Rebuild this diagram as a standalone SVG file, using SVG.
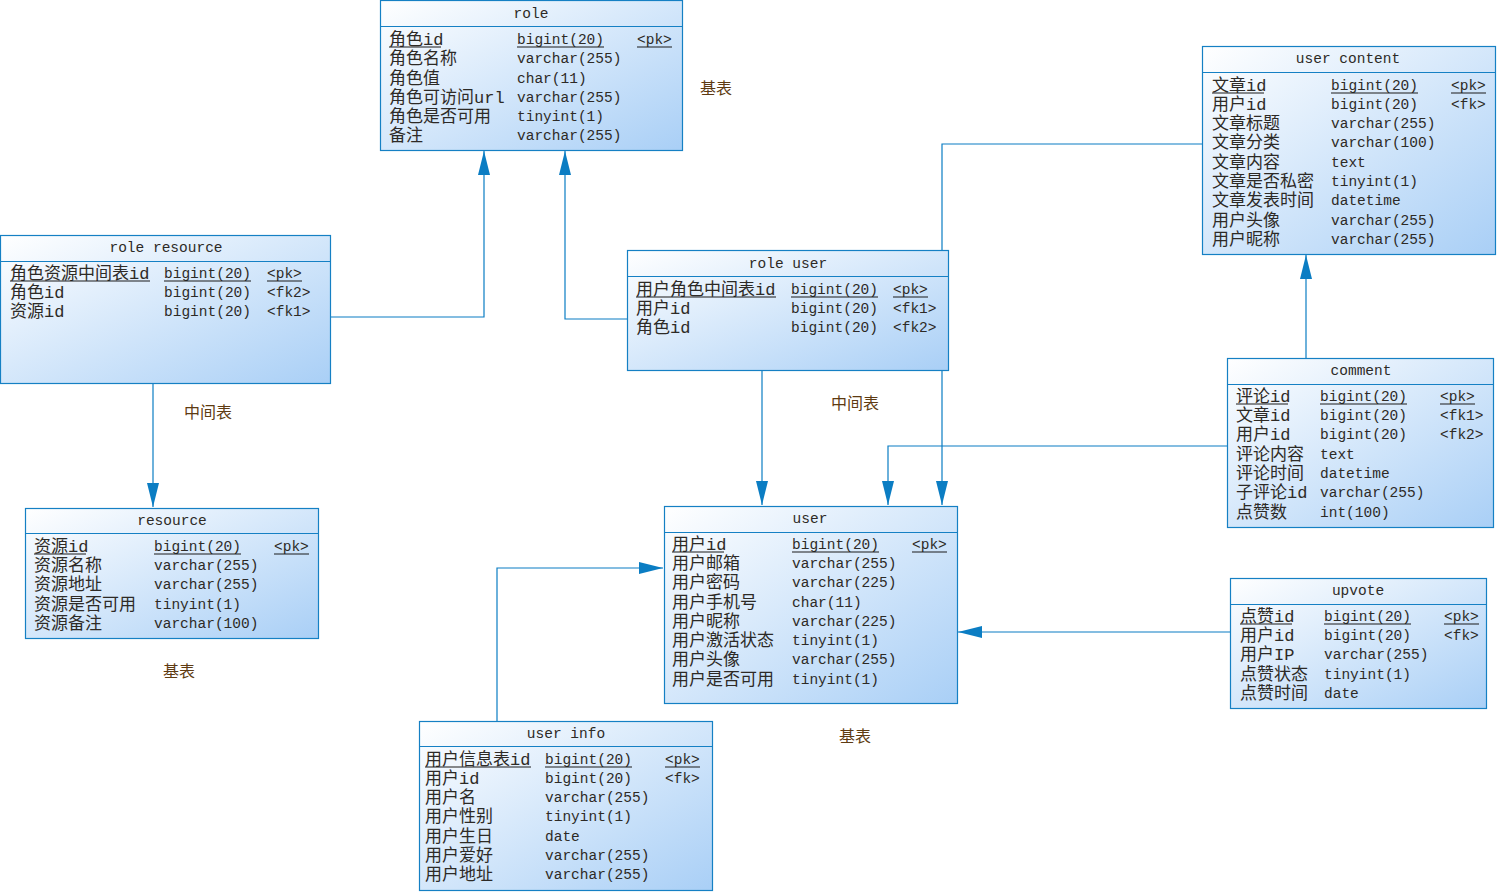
<svg xmlns="http://www.w3.org/2000/svg" width="1500" height="895" viewBox="0 0 1500 895">
<style>
.box{fill:url(#g);stroke:#1580c4;stroke-width:1.2}
.sep{stroke:#1580c4;stroke-width:1.2}
.t{font-family:"Liberation Mono","Noto Sans CJK SC",monospace;font-size:14.5px;fill:#2d2a26;dominant-baseline:central;transform:translateY(1px)}
.n{font-family:"Liberation Mono","Noto Sans CJK SC",monospace;font-size:17px;fill:#2d2a26;dominant-baseline:central;transform:translateY(1px)}
.ttl{font-family:"Liberation Mono","Noto Sans CJK SC",monospace;font-size:14.5px;fill:#2d2a26;dominant-baseline:central;text-anchor:middle;transform:translateY(1px)}
.u{stroke:#1a1a1a;stroke-width:1.2}
.lbl{font-family:"Noto Sans CJK SC",sans-serif;font-size:16px;fill:#5e3b12;dominant-baseline:central;text-anchor:middle}
.c{fill:none;stroke:#0b7dc3;stroke-width:1.2}
</style>
<defs>
<linearGradient id="g" x1="0" y1="0" x2="1" y2="1">
<stop offset="0" stop-color="#ffffff"/>
<stop offset="1" stop-color="#a9cff6"/>
</linearGradient>
<marker id="a" markerUnits="userSpaceOnUse" markerWidth="24" markerHeight="12" refX="24" refY="6" orient="auto" viewBox="0 0 24 12">
<path d="M0,0 L24,6 L0,12 z" fill="#0b7dc3"/>
</marker>
</defs>
<rect width="1500" height="895" fill="#ffffff"/>

<g id="connectors">
<polyline class="c" points="330,317 484,317 484,151" marker-end="url(#a)"/>
<polyline class="c" points="627,319 565,319 565,151" marker-end="url(#a)"/>
<polyline class="c" points="153,383 153,507" marker-end="url(#a)"/>
<polyline class="c" points="762,370 762,505" marker-end="url(#a)"/>
<polyline class="c" points="1202,144 942,144 942,505" marker-end="url(#a)"/>
<polyline class="c" points="1227,446 888,446 888,505" marker-end="url(#a)"/>
<polyline class="c" points="1306,358 1306,255" marker-end="url(#a)"/>
<polyline class="c" points="1230,632 958,632" marker-end="url(#a)"/>
<polyline class="c" points="497,721 497,568 663,568" marker-end="url(#a)"/>
</g>

<g id="role">
<rect class="box" x="380.5" y="0.5" width="302" height="150"/>
<line class="sep" x1="380.5" y1="26.5" x2="682.5" y2="26.5"/>
<text class="ttl" x="531" y="13">role</text>
<text class="n" x="389" y="39">角色id</text><text class="t" x="517" y="39">bigint(20)</text><text class="t" x="637" y="39">&lt;pk&gt;</text>
<line class="u" x1="389" y1="47" x2="441" y2="47"/><line class="u" x1="517" y1="47" x2="604" y2="47"/><line class="u" x1="637" y1="47" x2="672" y2="47"/>
<text class="n" x="389" y="58">角色名称</text><text class="t" x="517" y="58">varchar(255)</text>
<text class="n" x="389" y="78">角色值</text><text class="t" x="517" y="78">char(11)</text>
<text class="n" x="389" y="97">角色可访问url</text><text class="t" x="517" y="97">varchar(255)</text>
<text class="n" x="389" y="116">角色是否可用</text><text class="t" x="517" y="116">tinyint(1)</text>
<text class="n" x="389" y="135">备注</text><text class="t" x="517" y="135">varchar(255)</text>
</g>

<g id="role_resource">
<rect class="box" x="0.5" y="235.5" width="330" height="148"/>
<line class="sep" x1="0.5" y1="261.5" x2="330.5" y2="261.5"/>
<text class="ttl" x="166" y="247">role resource</text>
<text class="n" x="10" y="273">角色资源中间表id</text><text class="t" x="164" y="273">bigint(20)</text><text class="t" x="267" y="273">&lt;pk&gt;</text>
<line class="u" x1="10" y1="281" x2="150" y2="281"/><line class="u" x1="164" y1="281" x2="251" y2="281"/><line class="u" x1="267" y1="281" x2="302" y2="281"/>
<text class="n" x="10" y="292">角色id</text><text class="t" x="164" y="292">bigint(20)</text><text class="t" x="267" y="292">&lt;fk2&gt;</text>
<text class="n" x="10" y="311">资源id</text><text class="t" x="164" y="311">bigint(20)</text><text class="t" x="267" y="311">&lt;fk1&gt;</text>
</g>

<g id="user_content">
<rect class="box" x="1202.5" y="46.5" width="293" height="208"/>
<line class="sep" x1="1202.5" y1="72.5" x2="1495.5" y2="72.5"/>
<text class="ttl" x="1348" y="58">user content</text>
<text class="n" x="1212" y="85">文章id</text><text class="t" x="1331" y="85">bigint(20)</text><text class="t" x="1451" y="85">&lt;pk&gt;</text>
<line class="u" x1="1212" y1="93" x2="1264" y2="93"/><line class="u" x1="1331" y1="93" x2="1418" y2="93"/><line class="u" x1="1451" y1="93" x2="1486" y2="93"/>
<text class="n" x="1212" y="104">用户id</text><text class="t" x="1331" y="104">bigint(20)</text><text class="t" x="1451" y="104">&lt;fk&gt;</text>
<text class="n" x="1212" y="123">文章标题</text><text class="t" x="1331" y="123">varchar(255)</text>
<text class="n" x="1212" y="142">文章分类</text><text class="t" x="1331" y="142">varchar(100)</text>
<text class="n" x="1212" y="162">文章内容</text><text class="t" x="1331" y="162">text</text>
<text class="n" x="1212" y="181">文章是否私密</text><text class="t" x="1331" y="181">tinyint(1)</text>
<text class="n" x="1212" y="200">文章发表时间</text><text class="t" x="1331" y="200">datetime</text>
<text class="n" x="1212" y="220">用户头像</text><text class="t" x="1331" y="220">varchar(255)</text>
<text class="n" x="1212" y="239">用户昵称</text><text class="t" x="1331" y="239">varchar(255)</text>
</g>

<g id="role_user">
<rect class="box" x="627.5" y="250.5" width="321" height="120"/>
<line class="sep" x1="627.5" y1="276.5" x2="948.5" y2="276.5"/>
<text class="ttl" x="788" y="263">role user</text>
<text class="n" x="636" y="289">用户角色中间表id</text><text class="t" x="791" y="289">bigint(20)</text><text class="t" x="893" y="289">&lt;pk&gt;</text>
<line class="u" x1="636" y1="297" x2="776" y2="297"/><line class="u" x1="791" y1="297" x2="878" y2="297"/><line class="u" x1="893" y1="297" x2="928" y2="297"/>
<text class="n" x="636" y="308">用户id</text><text class="t" x="791" y="308">bigint(20)</text><text class="t" x="893" y="308">&lt;fk1&gt;</text>
<text class="n" x="636" y="327">角色id</text><text class="t" x="791" y="327">bigint(20)</text><text class="t" x="893" y="327">&lt;fk2&gt;</text>
</g>

<g id="comment">
<rect class="box" x="1227.5" y="358.5" width="266" height="169"/>
<line class="sep" x1="1227.5" y1="384.5" x2="1493.5" y2="384.5"/>
<text class="ttl" x="1361" y="370">comment</text>
<text class="n" x="1236" y="396">评论id</text><text class="t" x="1320" y="396">bigint(20)</text><text class="t" x="1440" y="396">&lt;pk&gt;</text>
<line class="u" x1="1236" y1="404" x2="1288" y2="404"/><line class="u" x1="1320" y1="404" x2="1407" y2="404"/><line class="u" x1="1440" y1="404" x2="1475" y2="404"/>
<text class="n" x="1236" y="415">文章id</text><text class="t" x="1320" y="415">bigint(20)</text><text class="t" x="1440" y="415">&lt;fk1&gt;</text>
<text class="n" x="1236" y="434">用户id</text><text class="t" x="1320" y="434">bigint(20)</text><text class="t" x="1440" y="434">&lt;fk2&gt;</text>
<text class="n" x="1236" y="454">评论内容</text><text class="t" x="1320" y="454">text</text>
<text class="n" x="1236" y="473">评论时间</text><text class="t" x="1320" y="473">datetime</text>
<text class="n" x="1236" y="492">子评论id</text><text class="t" x="1320" y="492">varchar(255)</text>
<text class="n" x="1236" y="512">点赞数</text><text class="t" x="1320" y="512">int(100)</text>
</g>

<g id="user">
<rect class="box" x="664.5" y="506.5" width="293" height="197"/>
<line class="sep" x1="664.5" y1="532.5" x2="957.5" y2="532.5"/>
<text class="ttl" x="810" y="518">user</text>
<text class="n" x="672" y="544">用户id</text><text class="t" x="792" y="544">bigint(20)</text><text class="t" x="912" y="544">&lt;pk&gt;</text>
<line class="u" x1="672" y1="552" x2="724" y2="552"/><line class="u" x1="792" y1="552" x2="879" y2="552"/><line class="u" x1="912" y1="552" x2="947" y2="552"/>
<text class="n" x="672" y="563">用户邮箱</text><text class="t" x="792" y="563">varchar(255)</text>
<text class="n" x="672" y="582">用户密码</text><text class="t" x="792" y="582">varchar(225)</text>
<text class="n" x="672" y="602">用户手机号</text><text class="t" x="792" y="602">char(11)</text>
<text class="n" x="672" y="621">用户昵称</text><text class="t" x="792" y="621">varchar(225)</text>
<text class="n" x="672" y="640">用户激活状态</text><text class="t" x="792" y="640">tinyint(1)</text>
<text class="n" x="672" y="659">用户头像</text><text class="t" x="792" y="659">varchar(255)</text>
<text class="n" x="672" y="679">用户是否可用</text><text class="t" x="792" y="679">tinyint(1)</text>
</g>

<g id="user_info">
<rect class="box" x="419.5" y="721.5" width="293" height="169"/>
<line class="sep" x1="419.5" y1="746.5" x2="712.5" y2="746.5"/>
<text class="ttl" x="566" y="733">user info</text>
<text class="n" x="425" y="759">用户信息表id</text><text class="t" x="545" y="759">bigint(20)</text><text class="t" x="665" y="759">&lt;pk&gt;</text>
<line class="u" x1="425" y1="767" x2="531" y2="767"/><line class="u" x1="545" y1="767" x2="632" y2="767"/><line class="u" x1="665" y1="767" x2="700" y2="767"/>
<text class="n" x="425" y="778">用户id</text><text class="t" x="545" y="778">bigint(20)</text><text class="t" x="665" y="778">&lt;fk&gt;</text>
<text class="n" x="425" y="797">用户名</text><text class="t" x="545" y="797">varchar(255)</text>
<text class="n" x="425" y="816">用户性别</text><text class="t" x="545" y="816">tinyint(1)</text>
<text class="n" x="425" y="836">用户生日</text><text class="t" x="545" y="836">date</text>
<text class="n" x="425" y="855">用户爱好</text><text class="t" x="545" y="855">varchar(255)</text>
<text class="n" x="425" y="874">用户地址</text><text class="t" x="545" y="874">varchar(255)</text>
</g>

<g id="upvote">
<rect class="box" x="1230.5" y="578.5" width="256" height="130"/>
<line class="sep" x1="1230.5" y1="604.5" x2="1486.5" y2="604.5"/>
<text class="ttl" x="1358" y="590">upvote</text>
<text class="n" x="1240" y="616">点赞id</text><text class="t" x="1324" y="616">bigint(20)</text><text class="t" x="1444" y="616">&lt;pk&gt;</text>
<line class="u" x1="1240" y1="624" x2="1292" y2="624"/><line class="u" x1="1324" y1="624" x2="1411" y2="624"/><line class="u" x1="1444" y1="624" x2="1479" y2="624"/>
<text class="n" x="1240" y="635">用户id</text><text class="t" x="1324" y="635">bigint(20)</text><text class="t" x="1444" y="635">&lt;fk&gt;</text>
<text class="n" x="1240" y="654">用户IP</text><text class="t" x="1324" y="654">varchar(255)</text>
<text class="n" x="1240" y="674">点赞状态</text><text class="t" x="1324" y="674">tinyint(1)</text>
<text class="n" x="1240" y="693">点赞时间</text><text class="t" x="1324" y="693">date</text>
</g>

<g id="resource">
<rect class="box" x="25.5" y="508.5" width="293" height="130"/>
<line class="sep" x1="25.5" y1="533.5" x2="318.5" y2="533.5"/>
<text class="ttl" x="172" y="520">resource</text>
<text class="n" x="34" y="546">资源id</text><text class="t" x="154" y="546">bigint(20)</text><text class="t" x="274" y="546">&lt;pk&gt;</text>
<line class="u" x1="34" y1="554" x2="86" y2="554"/><line class="u" x1="154" y1="554" x2="241" y2="554"/><line class="u" x1="274" y1="554" x2="309" y2="554"/>
<text class="n" x="34" y="565">资源名称</text><text class="t" x="154" y="565">varchar(255)</text>
<text class="n" x="34" y="584">资源地址</text><text class="t" x="154" y="584">varchar(255)</text>
<text class="n" x="34" y="604">资源是否可用</text><text class="t" x="154" y="604">tinyint(1)</text>
<text class="n" x="34" y="623">资源备注</text><text class="t" x="154" y="623">varchar(100)</text>
</g>

<g id="labels">
<text class="lbl" x="716" y="87">基表</text>
<text class="lbl" x="208" y="411">中间表</text>
<text class="lbl" x="855" y="402">中间表</text>
<text class="lbl" x="179" y="670">基表</text>
<text class="lbl" x="855" y="735">基表</text>
</g>
</svg>
